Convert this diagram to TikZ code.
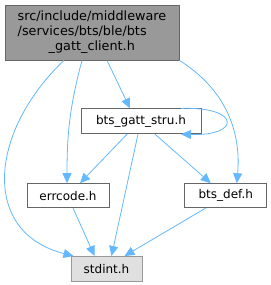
\documentclass[tikz,border=0pt]{standalone}
\usepackage{fontspec}
\setmainfont{DejaVu Sans}
\usetikzlibrary{arrows.meta,positioning}
\definecolor{edgeblue}{HTML}{63B8FF}
\definecolor{boxborder}{HTML}{666666}
\definecolor{mainfill}{HTML}{999999}
\definecolor{sysfill}{HTML}{E0E0E0}

\begin{document}
\begin{tikzpicture}[
  node distance=48pt,
  box/.style={draw=boxborder, fill=white, line width=0.8pt, inner sep=0pt,
  minimum height=25pt, font=\fontsize{12}{15}\selectfont},
  arrow/.style={-{Triangle[length=10pt,width=9pt]}, edgeblue, line width=0.8pt}
]
  \useasboundingbox (0,0) rectangle (271pt,285pt);
  \node[box, fill=mainfill, minimum width=174pt, minimum height=55pt, align=left,
    font=\fontsize{12.8}{15}\selectfont]
    (client) at (92pt,252.5pt) {src/include/middleware\\/services/bts/ble/bts\\\hspace*{31pt}\_gatt\_client.h};
  \node[box, minimum width=120pt, below=48pt of client, xshift=49pt] (stru) {bts\_gatt\_stru.h};
  \node[box, minimum width=82pt, minimum height=24pt, below=49pt of stru, xshift=-73pt] (errcode) {errcode.h};
  \node[box, minimum width=82pt, minimum height=24pt, right=75pt of errcode] (def) {bts\_def.h};
  \node[box, draw=mainfill, fill=sysfill, minimum width=71pt, below=48pt of errcode, xshift=38.5pt] (stdint) {stdint.h};

  \draw[arrow] ([xshift=-28pt]client.south) .. controls +(-74pt,-70pt) and +(-94pt,24pt) .. ([xshift=-33pt]stdint.north);
  \draw[arrow] ([xshift=-10pt]client.south) to[out=-105, in=90] ([xshift=-1pt]errcode.north);
  \draw[arrow] ([xshift=15pt]client.south) -- ([xshift=-11pt]stru.north);
  \draw[arrow] (client.south east) to[out=-32, in=85] ([xshift=11pt]def.north);
  \draw[arrow] ([xshift=40pt]stru.north) .. controls +(60pt,2pt) and +(60pt,-2pt) .. ([xshift=40pt]stru.south);
  \draw[arrow] ([xshift=-14pt]stru.south) -- ([xshift=12pt]errcode.north);
  \draw[arrow] ([xshift=-3pt]stru.south) -- ([xshift=5pt]stdint.north);
  \draw[arrow] ([xshift=14pt]stru.south) -- ([xshift=-15pt]def.north);
  \draw[arrow] ([xshift=5pt]errcode.south) -- ([xshift=-12pt]stdint.north);
  \draw[arrow] ([xshift=-20pt]def.south) -- ([xshift=18pt]stdint.north);
\end{tikzpicture}
\end{document}
